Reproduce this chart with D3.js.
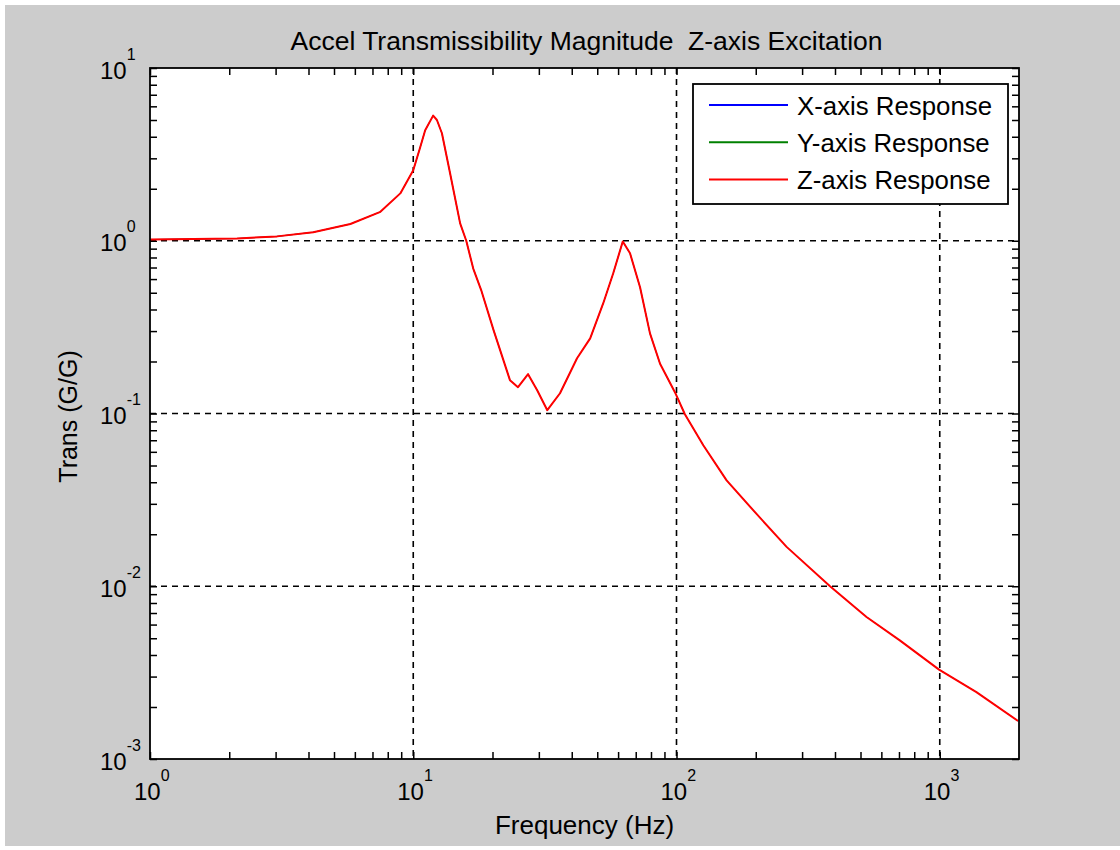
<!DOCTYPE html>
<html>
<head>
<meta charset="utf-8">
<script src="https://cdn.jsdelivr.net/npm/d3@7"></script>
<style>
  body { margin: 0; background: #fff; }
  text { font-family: Arial, "Liberation Sans", sans-serif; fill: #000; }
</style>
</head>
<body>
<div id="chart"></div>
<script>
// ---------------- data ----------------
var freq = [1, 2.14, 3.04, 4.17, 5.77, 7.5, 8.93, 10, 10.6, 11.1, 11.9, 12.3, 12.85, 13.8, 15.07, 15.9, 16.9, 18.1,
            20.2, 23.3, 25.0, 27.3, 29.6, 32.3, 36.1, 41.9, 47.0, 52.7, 57.5, 62.5, 66.6, 72.7, 79.3,
            86.6, 99.3, 107.6, 126.4, 155, 201, 262, 383, 527, 705, 994, 1378, 1983];
var zResp = [1.016, 1.03, 1.06, 1.12, 1.25, 1.47, 1.88, 2.56, 3.43, 4.36, 5.3, 5.0, 4.19, 2.46, 1.26, 1.0, 0.69, 0.52,
             0.303, 0.156, 0.142, 0.169, 0.136, 0.1045, 0.131, 0.209, 0.272, 0.435, 0.648, 0.99, 0.846, 0.538, 0.291,
             0.194, 0.130, 0.099, 0.0655, 0.041, 0.0263, 0.0169, 0.0100, 0.00664, 0.00486, 0.00329, 0.00244, 0.00166];
// X and Y responses lie under the Z curve in the original plot
var xResp = zResp;
var yResp = zResp;

var seriesNames = ["X-axis Response", "Y-axis Response", "Z-axis Response"];
var seriesColors = ["#0000ff", "#008000", "#ff0000"];
var seriesData = [xResp, yResp, zResp];

var xMajor = [1, 10, 100, 1000];
var yMajor = [10, 1, 0.1, 0.01, 0.001];

var titleText = "Accel Transmissibility Magnitude  Z-axis Excitation";
var xLabel = "Frequency (Hz)";
var yLabel = "Trans (G/G)";

// ---------------- layout ----------------
var W = 1120, H = 850;
var pL = 150, pT = 68, pR = 1019, pB = 759;
var tickLen = 7;

var svg = d3.select("#chart").append("svg")
  .attr("width", W)
  .attr("height", H);

svg.append("rect")
  .attr("x", 5).attr("y", 5)
  .attr("width", W - 5).attr("height", 841)
  .attr("fill", "#cccccc");

var x = d3.scaleLog().domain([1, 2000]).range([pL, pR]);
var y = d3.scaleLog().domain([0.001, 10]).range([pB, pT]);

svg.append("rect")
  .attr("x", pL).attr("y", pT)
  .attr("width", pR - pL).attr("height", pB - pT)
  .attr("fill", "#fff");

// minor tick values (2..9 in each decade)
var xMinor = [], yMinor = [];
xMajor.forEach(function(d) {
  for (var k = 2; k <= 9; k++) { if (d * k < 2000) xMinor.push(d * k); }
});
yMajor.slice(1).forEach(function(d) {
  for (var k = 2; k <= 9; k++) yMinor.push(d * k);
});

// ---------- grid ----------
var grid = svg.append("g").attr("class", "grid");
grid.selectAll(".vg").data(xMajor.slice(1)).enter().append("line")
  .attr("x1", function(d) { return x(d); }).attr("x2", function(d) { return x(d); })
  .attr("y1", pT).attr("y2", pB)
  .attr("stroke", "#000").attr("stroke-width", 1.6).attr("stroke-dasharray", "6,5");
grid.selectAll(".hg").data(yMajor.slice(1, 4)).enter().append("line")
  .attr("y1", function(d) { return y(d); }).attr("y2", function(d) { return y(d); })
  .attr("x1", pL).attr("x2", pR)
  .attr("stroke", "#000").attr("stroke-width", 1.6).attr("stroke-dasharray", "6,5");

// ---------- ticks on all four sides (inward) ----------
function tickAxis(axis, tr) {
  var g = svg.append("g").attr("transform", tr).call(axis);
  g.select(".domain").remove();
  g.selectAll("text").remove();
  g.selectAll(".tick line").attr("stroke", "#000").attr("stroke-width", 1.5);
  return g;
}
var xt = xMajor.concat(xMinor), yt = yMajor.concat(yMinor);
tickAxis(d3.axisBottom(x).tickValues(xt).tickSize(-tickLen), "translate(0," + pB + ")");
tickAxis(d3.axisTop(x).tickValues(xt).tickSize(-tickLen), "translate(0," + pT + ")");
tickAxis(d3.axisLeft(y).tickValues(yt).tickSize(-tickLen), "translate(" + pL + ",0)");
tickAxis(d3.axisRight(y).tickValues(yt).tickSize(-tickLen), "translate(" + pR + ",0)");

// ---------- curves ----------
var line = d3.line()
  .x(function(d) { return x(d[0]); })
  .y(function(d) { return y(d[1]); });

seriesData.forEach(function(vals, i) {
  svg.append("path")
    .datum(freq.map(function(f, j) { return [f, vals[j]]; }))
    .attr("fill", "none")
    .attr("stroke", seriesColors[i])
    .attr("stroke-width", i < 2 ? 0.8 : 2)   // X, Y hidden under Z
    .attr("stroke-linejoin", "round")
    .attr("d", line);
});

// ---------- box ----------
svg.append("rect")
  .attr("x", pL).attr("y", pT)
  .attr("width", pR - pL).attr("height", pB - pT)
  .attr("fill", "none").attr("stroke", "#000").attr("stroke-width", 1.8);

// ---------- tick labels: 10 with superscript ----------
function expOf(d) { return Math.round(Math.log10(d)); }

var xl = svg.selectAll(".xl").data(xMajor).enter().append("text")
  .attr("x", function(d) { return x(d) - 16; })
  .attr("y", 800)
  .attr("font-size", 24);
xl.append("tspan").text("10");
xl.append("tspan").attr("font-size", 16).attr("dy", -19).text(function(d) { return expOf(d); });

var yl = svg.selectAll(".yl").data(yMajor).enter().append("text")
  .attr("x", 100)
  .attr("y", function(d) { return y(d) + 10.5; })
  .attr("font-size", 24);
yl.append("tspan").text("10");
yl.append("tspan").attr("font-size", 16).attr("dy", -19).text(function(d) { return expOf(d); });

// ---------- titles ----------
svg.append("text")
  .attr("x", (pL + pR) / 2 + 2).attr("y", 50)
  .attr("text-anchor", "middle")
  .attr("font-size", 26.5)
  .style("white-space", "pre")
  .text(titleText);

svg.append("text")
  .attr("x", (pL + pR) / 2).attr("y", 834)
  .attr("text-anchor", "middle")
  .attr("font-size", 26)
  .text(xLabel);

svg.append("text")
  .attr("transform", "translate(77," + ((pT + pB) / 2 + 3) + ") rotate(-90)")
  .attr("text-anchor", "middle")
  .attr("font-size", 25)
  .text(yLabel);

// ---------- legend ----------
var lg = svg.append("g").attr("transform", "translate(693,84)");
lg.append("rect")
  .attr("width", 315).attr("height", 120)
  .attr("fill", "#fff").attr("stroke", "#000").attr("stroke-width", 1.8);

var rows = lg.selectAll(".row").data(seriesNames).enter().append("g")
  .attr("transform", function(d, i) { return "translate(0," + (21 + i * 37.2) + ")"; });
rows.append("line")
  .attr("x1", 16).attr("x2", 95)
  .attr("stroke", function(d, i) { return seriesColors[i]; })
  .attr("stroke-width", 2);
rows.append("text")
  .attr("x", 104).attr("y", 10)
  .attr("font-size", 25.8)
  .text(function(d) { return d; });
</script>
</body>
</html>
